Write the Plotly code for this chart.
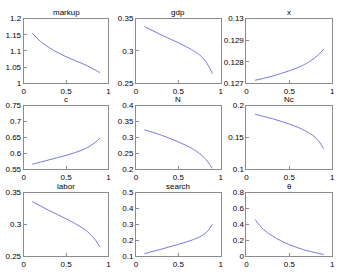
import plotly.graph_objects as go

# share of something on the horizontal axis
xs = [0.1, 0.2, 0.3, 0.4, 0.5, 0.6, 0.7, 0.75, 0.8, 0.85, 0.9]

markup = [1.155, 1.129, 1.110, 1.095, 1.082, 1.071, 1.060, 1.054, 1.047, 1.040, 1.033]
gdp = [0.3374, 0.331, 0.3245, 0.3185, 0.3125, 0.306, 0.2985, 0.2938, 0.2875, 0.278, 0.265]
xvar = [0.12714, 0.12723, 0.12733, 0.12745, 0.12758, 0.12773, 0.12792, 0.12804, 0.12819, 0.12836, 0.12858]
c = [0.566, 0.573, 0.58, 0.587, 0.594, 0.602, 0.612, 0.618, 0.626, 0.636, 0.648]
N = [0.324, 0.316, 0.307, 0.297, 0.286, 0.274, 0.259, 0.2495, 0.238, 0.2225, 0.203]
Nc = [0.1865, 0.183, 0.1795, 0.1755, 0.171, 0.166, 0.1595, 0.1555, 0.1505, 0.143, 0.1325]
labor = [0.336, 0.329, 0.322, 0.3155, 0.309, 0.302, 0.294, 0.289, 0.283, 0.275, 0.265]
search = [0.117, 0.132, 0.146, 0.161, 0.176, 0.192, 0.211, 0.223, 0.238, 0.262, 0.302]
theta = [0.462, 0.338, 0.258, 0.198, 0.148, 0.108, 0.074, 0.061, 0.048, 0.036, 0.025]

titles = ['markup', 'gdp', 'x', 'c', 'N', 'Nc', 'labor', 'search', 'θ']
series = [markup, gdp, xvar, c, N, Nc, labor, search, theta]
yranges = [[1, 1.2], [0.25, 0.35], [0.127, 0.13],
           [0.55, 0.75], [0.2, 0.4], [0.1, 0.2],
           [0.25, 0.35], [0.1, 0.5], [0, 0.8]]
yticks = [[1, 1.05, 1.1, 1.15, 1.2], [0.25, 0.3, 0.35], [0.127, 0.128, 0.129, 0.13],
          [0.55, 0.6, 0.65, 0.7, 0.75], [0.2, 0.25, 0.3, 0.35, 0.4], [0.1, 0.15, 0.2],
          [0.25, 0.3, 0.35], [0.1, 0.2, 0.3, 0.4, 0.5], [0, 0.2, 0.4, 0.6, 0.8]]

W, H = 348, 275
cols = [(22, 108), (136, 222), (248, 335)]
rows = [(15, 82), (105, 171), (195, 261)]

fig = go.Figure()
axis_style = dict(showline=True, mirror=True, linecolor='#8c8c8c', linewidth=1,
                  ticks='inside', ticklen=3, tickcolor='#8c8c8c', showgrid=False,
                  zeroline=False, tickfont=dict(size=8, color='black', family='Liberation Sans'))

for i, (name, ys) in enumerate(zip(titles, series)):
    r, k = divmod(i, 3)
    n = i + 1
    xa = 'x' if n == 1 else 'x%d' % n
    ya = 'y' if n == 1 else 'y%d' % n
    fig.add_trace(go.Scatter(x=xs, y=ys, mode='lines', line_shape='spline',
                             line=dict(color='rgb(120,120,225)', width=1),
                             xaxis=xa, yaxis=ya, showlegend=False))
    x0, x1 = cols[k]
    t, b = rows[r]
    fig.layout['xaxis' if n == 1 else 'xaxis%d' % n] = dict(
        domain=[x0 / W, x1 / W], anchor=ya, range=[0, 1],
        tickvals=[0, 0.5, 1], ticktext=['0', '0.5', '1'], **axis_style)
    fig.layout['yaxis' if n == 1 else 'yaxis%d' % n] = dict(
        domain=[1 - b / H, 1 - t / H], anchor=xa, range=yranges[i],
        tickvals=yticks[i], ticktext=[('%g' % v) for v in yticks[i]], **axis_style)
    fig.add_annotation(text=name, x=(x0 + x1) / 2 / W, y=1 - (t - 6.5) / H,
                       xref='paper', yref='paper', xanchor='center', yanchor='middle',
                       showarrow=False, borderpad=0,
                       font=dict(size=8, color='black', family='Liberation Sans'))

fig.update_layout(width=W, height=H, margin=dict(l=0, r=0, t=0, b=0),
                  paper_bgcolor='white', plot_bgcolor='white')
fig.write_html("out.html", config={'displayModeBar': False},
               post_script="document.body.style.margin='0';")
